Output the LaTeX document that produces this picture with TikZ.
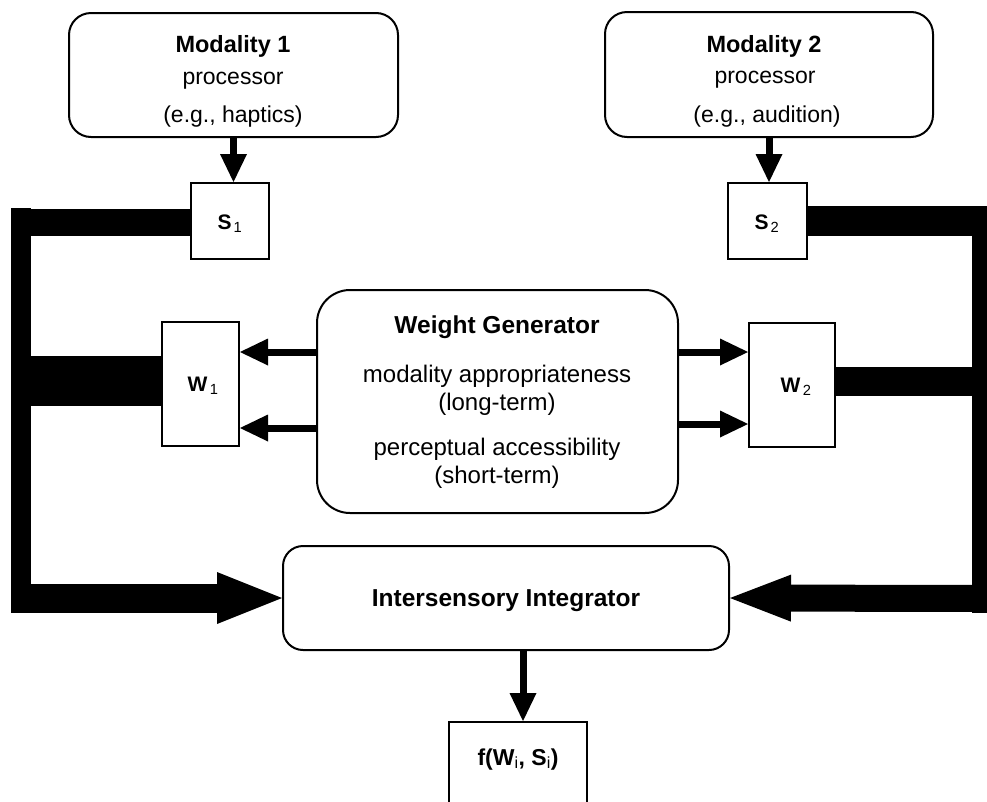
\documentclass[tikz,border=0pt]{standalone}
\usepackage{fontspec}
\setmainfont{Liberation Sans}
\usetikzlibrary{arrows.meta}
\begin{document}
\begin{tikzpicture}[x=1pt,y=-1pt,
  rbox/.style={draw, line width=2pt, inner sep=0pt},
  sbox/.style={draw, line width=2pt, inner sep=0pt},
  txt/.style={inner sep=0pt, anchor=base, font=\fontsize{24}{28}\selectfont},
  btxt/.style={inner sep=0pt, anchor=base, font=\fontsize{24.5}{28}\selectfont\bfseries},
  mtxt/.style={inner sep=0pt, anchor=base, font=\fontsize{23}{28}\selectfont},
  mbtxt/.style={inner sep=0pt, anchor=base, font=\fontsize{23.5}{28}\selectfont\bfseries},
  stxt/.style={inner sep=0pt, anchor=base, font=\fontsize{21}{26}\selectfont\bfseries},
  thinarrow/.style={line width=7pt, -{Triangle[length=28pt,width=27pt,line width=0pt]}},
]
\useasboundingbox (0,0) rectangle (987,801);
\fill[white] (0,0) rectangle (987,801);

% boxes
\node[rbox, rounded corners=22pt, minimum width=329pt, minimum height=124pt] (m1) at (233.5,75) {};
\node[rbox, rounded corners=22pt, minimum width=328pt, minimum height=125pt] (m2) at (769,74.5) {};
\node[sbox, minimum width=78pt, minimum height=76pt] (s1) at (230,221) {};
\node[sbox, minimum width=79pt, minimum height=76pt] (s2) at (767.5,221) {};
\node[sbox, minimum width=77pt, minimum height=124pt] (w1) at (200.5,384) {};
\node[sbox, minimum width=86pt, minimum height=124pt] (w2) at (792,385) {};
\node[rbox, rounded corners=33pt, minimum width=361pt, minimum height=223pt] (wg) at (497.5,401.5) {};
\node[rbox, rounded corners=20pt, minimum width=446pt, minimum height=104pt] (ii) at (506,598) {};
\node[sbox, minimum width=138pt, minimum height=95pt] (fb) at (518,769.5) {};

% texts
\node[mbtxt] (m1a) at (233,52) {Modality 1};
\node[mtxt] (m1b) at (233,84) {processor};
\node[mtxt] (m1c) at (233,122) {(e.g., haptics)};
\node[mbtxt] (m2a) at (764,52) {Modality 2};
\node[mtxt] (m2b) at (765,83) {processor};
\node[mtxt] (m2c) at (767,122) {(e.g., audition)};
\node[stxt] (s1t) at (230,229) {S\kern2pt\textsubscript{\mdseries 1}};
\node[stxt] (s2t) at (767,229) {S\kern2pt\textsubscript{\mdseries 2}};
\node[stxt] (w1t) at (203,391) {W\kern2.5pt\textsubscript{\mdseries 1}};
\node[stxt] (w2t) at (796,392) {W\kern2.5pt\textsubscript{\mdseries 2}};
\node[btxt] (wga) at (497,333) {Weight Generator};
\node[txt] (wgb) at (497,382) {modality appropriateness};
\node[txt] (wgc) at (497,410) {(long-term)};
\node[txt] (wgd) at (497,455) {perceptual accessibility};
\node[txt] (wge) at (497,483) {(short-term)};
\node[btxt] (iit) at (506,606) {Intersensory Integrator};
\node[btxt, font=\fontsize{23}{28}\selectfont\bfseries] (fbt) at (518,765) {f(W\textsubscript{\mdseries i}, S\textsubscript{\mdseries i})};

% thin arrows
\draw[thinarrow] (m1.south) -- (m1.south |- s1.north);
\draw[thinarrow] (m2.south) -- (m2.south |- s2.north);
\coordinate (g1) at ([yshift=49.5pt]wg.west);
\coordinate (g2) at ([yshift=-26.5pt]wg.west);
\coordinate (g3) at ([yshift=49.5pt]wg.east);
\coordinate (g4) at ([yshift=-22.5pt]wg.east);
\draw[thinarrow] (g1) -- (g1 -| w1.east);
\draw[thinarrow] (g2) -- (g2 -| w1.east);
\draw[thinarrow] (g3) -- (g3 -| w2.west);
\draw[thinarrow] (g4) -- (g4 -| w2.west);
\coordinate (d1) at ([xshift=5pt]fb.north);
\draw[thinarrow] (d1 |- ii.south) -- (d1);

% thick connectors left
\coordinate (LT) at (21,222);
\coordinate (LW) at (21,381);
\coordinate (LB) at (21,598);
\draw[line width=27pt] (s1.west |- LT) -- ([xshift=-10pt]LT);
\draw[line width=20pt] ([yshift=14pt]LT) -- ([yshift=-14pt]LB);
\draw[line width=50pt] (w1.west |- LW) -- (LW);
\draw[line width=29pt, -{Triangle[length=65pt,width=52pt,line width=0pt]}] ([xshift=-10pt]LB) -- (ii.west);

% thick connectors right
\coordinate (RT) at (982,221);
\coordinate (RW) at (982,381.5);
\coordinate (RB) at (982,598.5);
\draw[line width=30pt] (s2.east |- RT) -- ([xshift=10pt]RT);
\draw[line width=20pt] ([yshift=15pt]RT) -- ([yshift=-14pt]RB);
\draw[line width=29pt] (w2.east |- RW) -- (RW);
\draw[line width=27pt, -{Triangle[length=61pt,width=47pt,line width=0pt]}] ([xshift=10pt]RB) -- (ii.east);
\end{tikzpicture}
\end{document}
